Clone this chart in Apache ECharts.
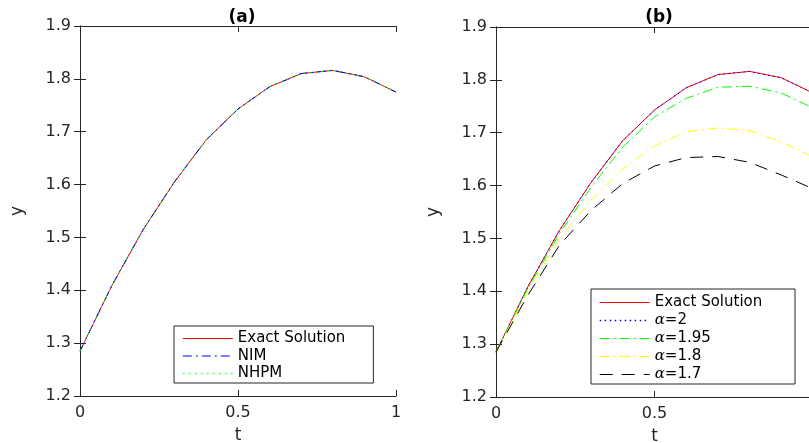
<!DOCTYPE html>
<html>
<head>
<meta charset="utf-8">
<script src="https://cdn.jsdelivr.net/npm/echarts@6/dist/echarts.min.js"></script>
<style>
  html, body { margin: 0; padding: 0; background: #fff; }
  #chart { width: 809px; height: 443px; }
</style>
</head>
<body>
<div id="chart"></div>
<script>
// Time samples
const tValues = [0, 0.1, 0.2, 0.3, 0.4, 0.5, 0.6, 0.7, 0.8, 0.9, 1.0];

// Panel (a): exact solution vs. numerical schemes
const exactA = [1.285, 1.408, 1.515, 1.606, 1.685, 1.743, 1.785, 1.810, 1.816, 1.804, 1.775];
const nimA   = [1.285, 1.408, 1.515, 1.606, 1.685, 1.743, 1.785, 1.810, 1.816, 1.804, 1.775];
const nhpmA  = [1.285, 1.408, 1.515, 1.606, 1.685, 1.743, 1.785, 1.810, 1.816, 1.804, 1.775];

// Panel (b): exact solution vs. fractional orders
const exactB    = [1.285, 1.408, 1.515, 1.606, 1.685, 1.743, 1.785, 1.810, 1.816, 1.804, 1.775];
const alpha2B   = [1.285, 1.408, 1.515, 1.606, 1.685, 1.743, 1.785, 1.810, 1.816, 1.804, 1.775];
const alpha195B = [1.285, 1.405, 1.509, 1.597, 1.673, 1.730, 1.765, 1.786, 1.788, 1.775, 1.747];
const alpha18B  = [1.285, 1.399, 1.500, 1.572, 1.632, 1.675, 1.702, 1.709, 1.704, 1.683, 1.654];
const alpha17B  = [1.285, 1.392, 1.487, 1.553, 1.604, 1.637, 1.653, 1.655, 1.644, 1.620, 1.594];

// Tick labels
const xTicks = [0, 0.5, 1];
const yTicks = [1.2, 1.3, 1.4, 1.5, 1.6, 1.7, 1.8, 1.9];

const AX = '#262626';
const FONT = 'DejaVu Sans';

const pairs = ys => tValues.map((t, i) => [t, ys[i]]);

function xAxisPair(gridIndex) {
  const base = {
    type: 'value', gridIndex, min: xTicks[0], max: xTicks[xTicks.length - 1], interval: 0.5,
    axisLine: { show: true, lineStyle: { color: AX, width: 1 } },
    axisTick: { show: true, inside: true, length: 6, lineStyle: { color: AX } },
    splitLine: { show: false }
  };
  return [
    Object.assign({}, base, {
      position: 'bottom',
      name: 't', nameLocation: 'middle', nameGap: 31,
      nameTextStyle: { color: AX, fontFamily: FONT, fontSize: 17 },
      axisLabel: { color: AX, fontFamily: FONT, fontSize: 16, margin: 9,
        formatter: v => String(xTicks.find(x => Math.abs(x - v) < 1e-9) ?? '') }
    }),
    Object.assign({}, base, { position: 'top', axisLabel: { show: false } })
  ];
}

function yAxisPair(gridIndex) {
  const base = {
    type: 'value', gridIndex, min: yTicks[0], max: yTicks[yTicks.length - 1], interval: 0.1,
    axisLine: { show: true, lineStyle: { color: AX, width: 1 } },
    axisTick: { show: true, inside: true, length: 6, lineStyle: { color: AX } },
    splitLine: { show: false }
  };
  return [
    Object.assign({}, base, {
      position: 'left',
      name: 'y', nameLocation: 'middle', nameGap: 54, nameRotate: 90,
      nameTextStyle: { color: AX, fontFamily: FONT, fontSize: 17 },
      axisLabel: { color: AX, fontFamily: FONT, fontSize: 16, margin: 9,
        formatter: v => {
          const t = yTicks.find(y => Math.abs(y - v) < 1e-9);
          return t === undefined ? '' : t.toFixed(1);
        } }
    }),
    Object.assign({}, base, { position: 'right', axisLabel: { show: false } })
  ];
}

function lineSeries(name, ys, color, dash, axisIdx, z) {
  return {
    type: 'line', name, data: pairs(ys),
    xAxisIndex: axisIdx, yAxisIndex: axisIdx,
    symbol: 'none', z,
    lineStyle: { color, width: 1, type: dash },
    itemStyle: { color },
    emphasis: { disabled: true },
    animation: false
  };
}

const legendBase = {
  orient: 'vertical',
  backgroundColor: '#fff',
  borderColor: AX,
  borderWidth: 1,
  itemWidth: 50,
  itemHeight: 13,
  itemGap: 2.5,
  selectedMode: false,
  itemStyle: { opacity: 0 },
  lineStyle: { width: 1 },
  textStyle: {
    color: '#000', fontFamily: FONT, fontSize: 15, padding: [0, 0, 0, 0],
    rich: {
      al: { fontFamily: 'DejaVu Serif', fontStyle: 'italic', fontSize: 15, color: '#000' },
      rest: { fontFamily: FONT, fontSize: 15, color: '#000' }
    }
  },
  formatter: name => name.startsWith('α') ? '{al|α}{rest|' + name.slice(1) + '}' : name
};

const option = {
  backgroundColor: '#fff',
  animation: false,
  title: [
    { text: '(a)', left: 237, top: 4, textAlign: 'center',
      textStyle: { fontFamily: FONT, fontWeight: 'bold', fontSize: 17, color: '#000' } },
    { text: '(b)', left: 654, top: 4, textAlign: 'center',
      textStyle: { fontFamily: FONT, fontWeight: 'bold', fontSize: 17, color: '#000' } }
  ],
  grid: [
    { left: 80, top: 26, width: 316, height: 370, outerBoundsMode: 'none' },
    { left: 496, top: 27, width: 317, height: 370, outerBoundsMode: 'none' }
  ],
  xAxis: [...xAxisPair(0), ...xAxisPair(1)],
  yAxis: [...yAxisPair(0), ...yAxisPair(1)],
  legend: [
    Object.assign({}, legendBase, {
      left: 174, top: 326,
      padding: [5, 28, 2, 8],
      data: ['Exact Solution', 'NIM',
        { name: 'NHPM', lineStyle: { width: 1.6, color: '#5cff5c' } }]
    }),
    Object.assign({}, legendBase, {
      left: 591, top: 289,
      itemGap: 3,
      padding: [6, 28, 2, 8],
      data: ['Exact Solution ',
        { name: 'α=2', lineStyle: { width: 1.4 } },
        'α=1.95', 'α=1.8', 'α=1.7']
    })
  ],
  series: [
    lineSeries('Exact Solution', exactA, '#ff0000', 'solid', 0, 2),
    lineSeries('NIM', nimA, '#0000ff', [9, 4, 2, 4], 0, 3),
    lineSeries('NHPM', nhpmA, '#00ff00', [2, 4], 0, 4),
    lineSeries('Exact Solution ', exactB, '#ff0000', 'solid', 2, 2),
    lineSeries('α=2', alpha2B, '#0000ff', [1.5, 3.5], 2, 3),
    lineSeries('α=1.95', alpha195B, '#00ff00', [10, 4, 2, 4], 2, 3),
    lineSeries('α=1.8', alpha18B, '#ffff00', [10, 4, 2, 4], 2, 3),
    lineSeries('α=1.7', alpha17B, '#000000', [13, 9], 2, 3)
  ]
};

const chart = echarts.init(document.getElementById('chart'), null, { renderer: 'canvas' });
chart.setOption(option);
</script>
</body>
</html>
